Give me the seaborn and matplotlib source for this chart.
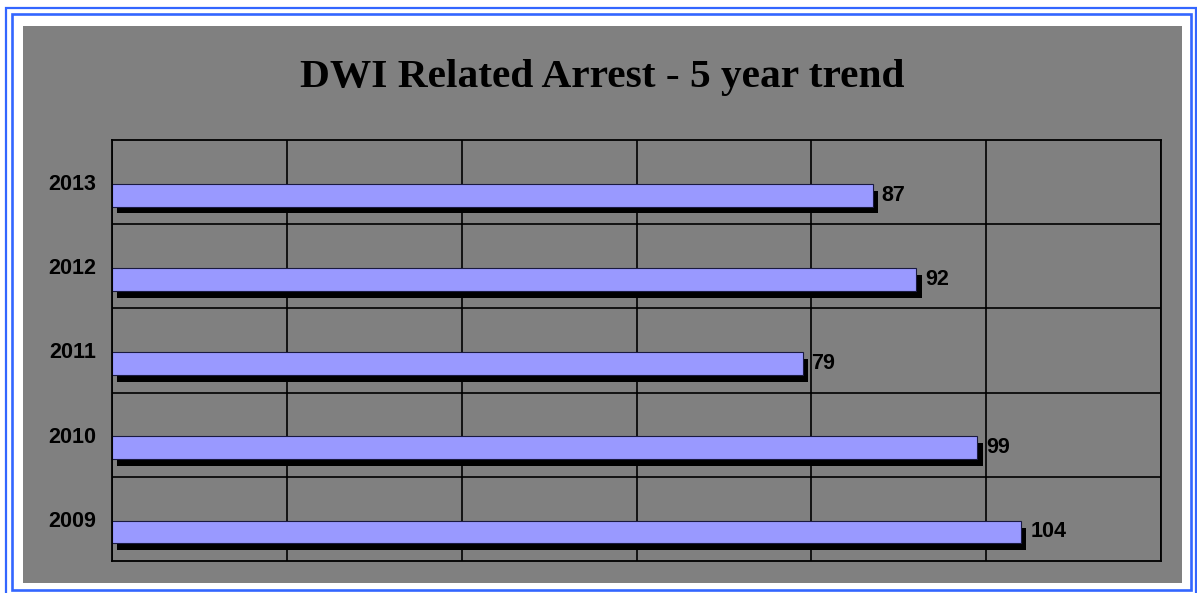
import matplotlib
matplotlib.use("Agg")
import matplotlib.pyplot as plt
import matplotlib.patheffects as pe
from matplotlib.patches import Rectangle
import seaborn as sns
import pandas as pd

# data
years = ["2013", "2012", "2011", "2010", "2009"]
arrests = [87, 92, 79, 99, 104]
title = "DWI Related Arrest - 5 year trend"

W, H = 1197, 593
sns.set_style("white")
plt.rcParams["font.family"] = ["Liberation Sans", "DejaVu Sans"]
plt.rcParams["text.color"] = "black"
plt.rcParams["ytick.color"] = "black"

fig = plt.figure(figsize=(W / 100, H / 100), dpi=100)
fig.patch.set_facecolor("white")


def px_rect(x0, y0, x1, y1, **kw):
    # rectangle given in pixel coords (origin top-left)
    return Rectangle((x0 / W, 1 - y1 / H), (x1 - x0) / W, (y1 - y0) / H,
                     transform=fig.transFigure, figure=fig, zorder=-5, **kw)


# double blue frame + gray chart area
fig.patches.append(px_rect(6, 8, 1196, 598, fill=False, edgecolor="#3366ff", lw=1.6))
fig.patches.append(px_rect(11.5, 14, 1191, 589.5, fill=False, edgecolor="#3366ff", lw=1.9))
fig.patches.append(px_rect(23, 26, 1182, 583, facecolor="#808080", edgecolor="none"))

ax = fig.add_axes([112 / W, 1 - 561 / H, 1049 / W, 421 / H])
ax.set_facecolor("#808080")

df = pd.DataFrame({"year": years, "arrests": arrests})
sns.barplot(data=df, x="arrests", y="year", order=years, orient="h",
            color="#9999ff", saturation=1, edgecolor="#1a1a40", linewidth=0.8,
            width=0.27, ax=ax)

# bars sit a bit below the middle of each band, with a black drop shadow
for p in ax.patches:
    p.set_y(p.get_y() + 0.155)
    p.set_path_effects([pe.SimplePatchShadow(offset=(3.8, -5), shadow_rgbFace="black", alpha=1.0),
                        pe.Normal()])

ax.bar_label(ax.containers[0], labels=[str(v) for v in arrests], padding=6.5,
             fontsize=15.5, fontweight="bold", color="black")

ax.set_xlim(0, 120)
ax.set_ylim(4.5, -0.5)
ax.set_xticks(range(0, 121, 20))
ax.set_xticklabels([])
ax.set_yticks(range(len(years)))
ax.set_yticklabels(years, fontsize=15.5, fontweight="bold", color="black")
ax.set_yticks([0.5, 1.5, 2.5, 3.5], minor=True)
ax.tick_params(axis="both", which="both", length=0)
ax.tick_params(axis="y", pad=11.5)
ax.set_xlabel("")
ax.set_ylabel("")

ax.grid(False)
ax.xaxis.grid(True, which="major", color="black", lw=1.2)
ax.yaxis.grid(True, which="minor", color="black", lw=1.2)
ax.set_axisbelow(True)
for s in ax.spines.values():
    s.set_visible(True)
    s.set_color("black")
    s.set_linewidth(1.3)

fig.text(602 / W, 1 - 87.3 / H, title, ha="center", va="baseline", color="black",
         fontsize=29.8, fontweight="bold", family=["Liberation Serif", "DejaVu Serif"])

fig.savefig("out.png", dpi=100, facecolor=fig.get_facecolor())
